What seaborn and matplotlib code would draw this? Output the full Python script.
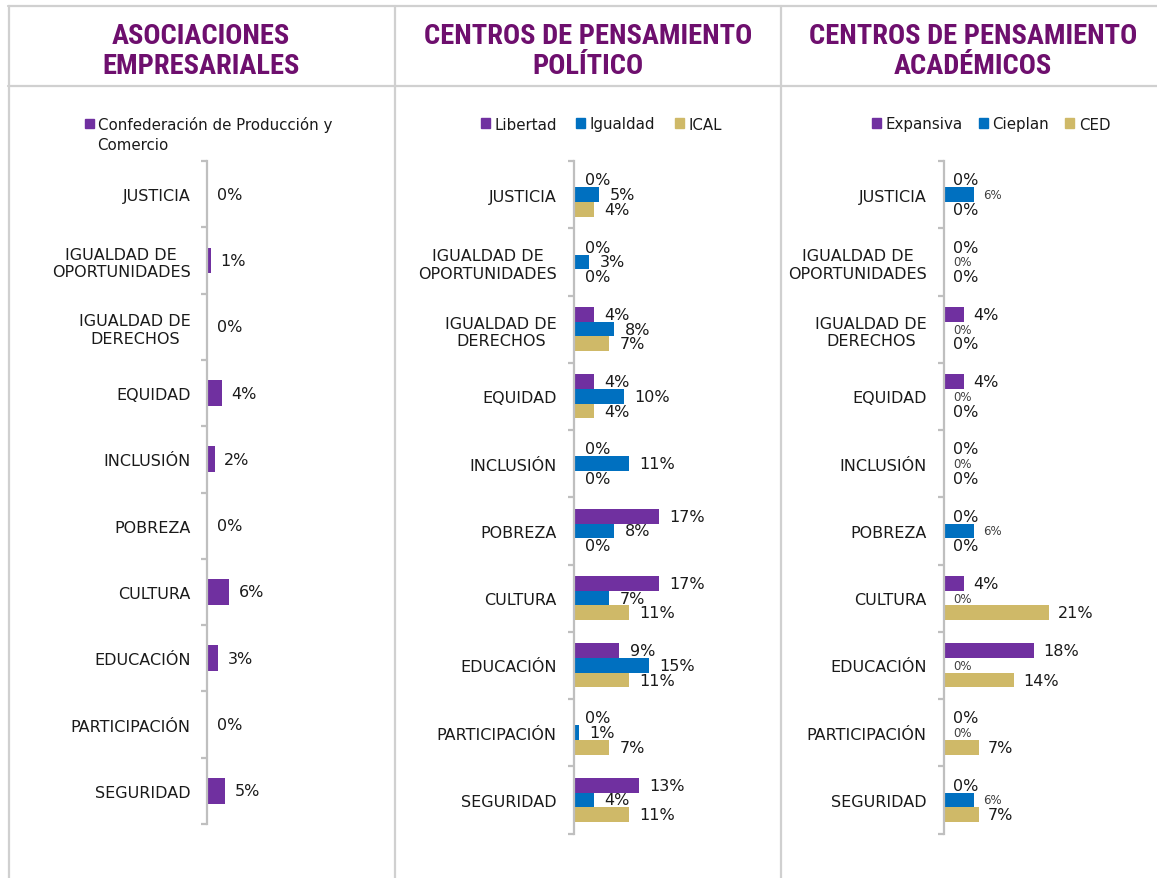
"""
Recreate three-panel horizontal bar chart: temas por tipo de organización
"""

import numpy as np
import pandas as pd
import matplotlib.pyplot as plt
import seaborn as sns
from matplotlib import font_manager
from matplotlib.lines import Line2D
from matplotlib.patches import Patch

# categories (top to bottom)
temas = ["JUSTICIA", "IGUALDAD DE\nOPORTUNIDADES", "IGUALDAD DE\nDERECHOS", "EQUIDAD",
         "INCLUSIÓN", "POBREZA", "CULTURA", "EDUCACIÓN", "PARTICIPACIÓN", "SEGURIDAD"]

# panel 1: asociaciones empresariales
cpc = [0, 1, 0, 4, 2, 0, 6, 3, 0, 5]

# panel 2: centros de pensamiento político
libertad = [0, 0, 4, 4, 0, 17, 17, 9, 0, 13]
igualdad = [5, 3, 8, 10, 11, 8, 7, 15, 1, 4]
ical = [4, 0, 7, 4, 0, 0, 11, 11, 7, 11]

# panel 3: centros de pensamiento académicos
expansiva = [0, 0, 4, 4, 0, 0, 4, 18, 0, 0]
cieplan = [6, 0, 0, 0, 0, 6, 0, 0, 0, 6]
ced = [0, 0, 0, 0, 0, 0, 21, 14, 7, 7]

titulos = [("ASOCIACIONES", "EMPRESARIALES"),
           ("CENTROS DE PENSAMIENTO", "POLÍTICO"),
           ("CENTROS DE PENSAMIENTO", "ACADÉMICOS")]

PURPLE = "#7030A0"
BLUE = "#0070C0"
GOLD = "#CFB968"
TITLE_COLOR = "#6E0F6E"
GRID = "#D0D0D0"
AXIS = "#BFBFBF"
TXT = "#1a1a1a"

sns.set_theme(style="white")
plt.rcParams["font.family"] = ["DejaVu Sans"]

# narrowest available bold face for the headers
names = {f.name for f in font_manager.fontManager.ttflist}
title_font, title_size = "DejaVu Sans", 15.5
for name, size in [("Liberation Sans Narrow", 20.5), ("Roboto Condensed", 20.5),
                   ("Roboto", 18.4)]:
    if name in names:
        title_font, title_size = name, size
        break

W, H = 1157, 879
fig = plt.figure(figsize=(W / 100, H / 100), dpi=100)
fig.patch.set_facecolor("white")


def fx(px):
    return px / W


def fy(py):
    return 1 - py / H


# table frame lines
for y in (7, 87):
    fig.add_artist(Line2D([fx(8), 1], [fy(y), fy(y)], color=GRID, lw=1.6))
for x in (8.5, 395, 781):
    fig.add_artist(Line2D([fx(x), fx(x)], [0, fy(7)], color=GRID, lw=1.6))

# titles
for cx, (l1, l2) in zip((201, 588, 973), titulos):
    fig.text(fx(cx), fy(43.5), l1, ha="center", va="baseline", color=TITLE_COLOR,
             fontsize=title_size, fontweight="bold", family=title_font)
    fig.text(fx(cx), fy(73.5), l2, ha="center", va="baseline", color=TITLE_COLOR,
             fontsize=title_size, fontweight="bold", family=title_font)


def style_axis(ax, xmax):
    ax.set_xlim(0, xmax)
    ax.set_ylim(9.5, -0.5)
    ax.set_xlabel("")
    ax.set_ylabel("")
    ax.xaxis.set_visible(False)
    for s in ("top", "right", "bottom"):
        ax.spines[s].set_visible(False)
    ax.spines["left"].set_color(AXIS)
    ax.spines["left"].set_linewidth(1.6)
    ax.set_yticks(range(len(temas)))
    ax.set_yticklabels(temas)
    ax.set_yticks(np.arange(-0.5, len(temas), 1), minor=True)
    ax.tick_params(axis="y", which="major", left=True, length=0, pad=12,
                   labelsize=11.5, labelcolor=TXT)
    ax.tick_params(axis="y", which="minor", left=True, length=4.5, width=1.6,
                   color=AXIS)
    for t in ax.get_yticklabels():
        t.set_multialignment("center")
    ax.set_facecolor("white")


def panel(ax, series, names_, colors, width, xmax, label_styles, pad):
    df = pd.DataFrame({
        "tema": np.tile(temas, len(series)),
        "serie": np.repeat(names_, len(temas)),
        "valor": np.concatenate([np.array(s, dtype=float) for s in series]),
    })
    sns.barplot(data=df, x="valor", y="tema", hue="serie", hue_order=names_,
                order=temas, palette=colors, orient="h", width=width,
                saturation=1, errorbar=None, legend=False, linewidth=0,
                edgecolor="none", ax=ax)
    for cont, vals, (fs, col) in zip(ax.containers, series, label_styles):
        ax.bar_label(cont, labels=[f"{v}%" for v in vals], padding=pad,
                     fontsize=fs, color=col)
    style_axis(ax, xmax)


# panel 1
ax1 = fig.add_axes([fx(207.3), fy(825), fx(178), 663 / H])
panel(ax1, [cpc], ["Confederación de Producción y Comercio"], [PURPLE], 0.39,
      178 / 3.62, [(11.5, TXT)], 7)

# panel 2
ax2 = fig.add_axes([fx(573.5), fy(834.5), fx(197), 672.5 / H])
panel(ax2, [libertad, igualdad, ical], ["Libertad", "Igualdad", "ICAL"],
      [PURPLE, BLUE, GOLD], 0.655, 197 / 5.0,
      [(11.5, TXT)] * 3, 8)

# panel 3
ax3 = fig.add_axes([fx(943.5), fy(834.5), fx(206), 672.5 / H])
panel(ax3, [expansiva, cieplan, ced], ["Expansiva", "Cieplan", "CED"],
      [PURPLE, BLUE, GOLD], 0.655, 206 / 5.0,
      [(11.5, TXT), (8.5, "#404040"), (11.5, TXT)], 7)

# legends
leg_kw = dict(frameon=False, fontsize=10.8, handlelength=0.6, handleheight=0.6,
              handletextpad=0.3, borderpad=0, labelcolor=TXT)
fig.legend(handles=[Patch(color=PURPLE, label="Confederación de Producción y")],
           loc="center left", bbox_to_anchor=(fx(77), fy(125)), **leg_kw)
fig.text(fx(97), fy(146), "Comercio", ha="left", va="center", fontsize=10.8,
         color=TXT)
fig.legend(handles=[Patch(color=c, label=n) for c, n in
                    zip([PURPLE, BLUE, GOLD], ["Libertad", "Igualdad", "ICAL"])],
           loc="center", bbox_to_anchor=(fx(601), fy(125)), ncol=3,
           columnspacing=1.3, **leg_kw)
fig.legend(handles=[Patch(color=c, label=n) for c, n in
                    zip([PURPLE, BLUE, GOLD], ["Expansiva", "Cieplan", "CED"])],
           loc="center", bbox_to_anchor=(fx(991), fy(125)), ncol=3,
           columnspacing=1.1, **leg_kw)

fig.savefig("out.png", dpi=100, facecolor="white")
